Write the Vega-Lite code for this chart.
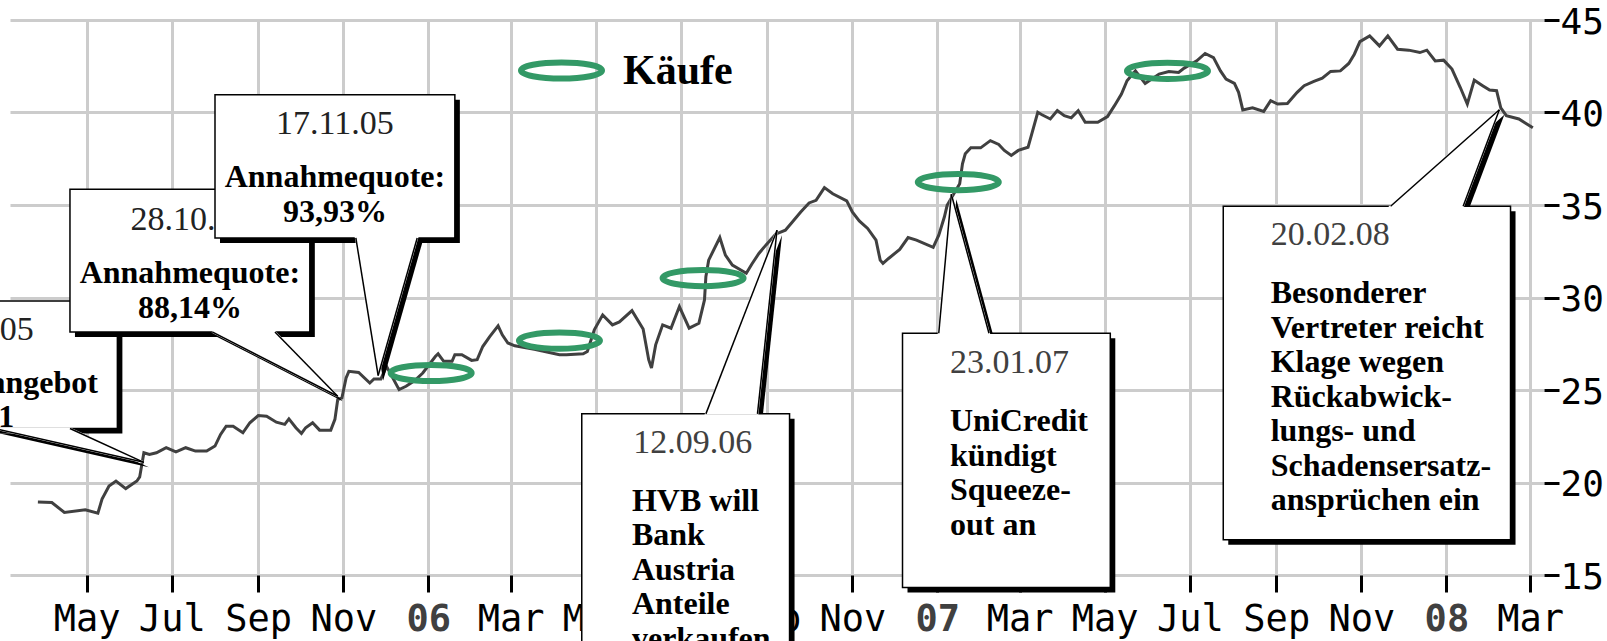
{
  "$schema": "https://vega.github.io/schema/vega-lite/v6.json",
  "width": 1534,
  "height": 555,
  "autosize": {"type": "none"},
  "padding": {"left": 10, "top": 20, "right": 63, "bottom": 66},
  "background": "white",
  "config": {"view": {"stroke": null}},
  "datasets": {
    "kurs": [
      {"tag": "2005-03-27", "kurs": 18.95}, {"tag": "2005-04-06", "kurs": 18.92}, {"tag": "2005-04-15", "kurs": 18.38},
      {"tag": "2005-04-30", "kurs": 18.52}, {"tag": "2005-05-09", "kurs": 18.34}, {"tag": "2005-05-12", "kurs": 19.10},
      {"tag": "2005-05-17", "kurs": 19.81}, {"tag": "2005-05-22", "kurs": 20.08}, {"tag": "2005-05-29", "kurs": 19.67},
      {"tag": "2005-06-06", "kurs": 20.08}, {"tag": "2005-06-08", "kurs": 20.30}, {"tag": "2005-06-11", "kurs": 21.61},
      {"tag": "2005-06-15", "kurs": 21.52}, {"tag": "2005-06-20", "kurs": 21.61}, {"tag": "2005-06-27", "kurs": 21.88},
      {"tag": "2005-07-04", "kurs": 21.65}, {"tag": "2005-07-11", "kurs": 21.88}, {"tag": "2005-07-18", "kurs": 21.70},
      {"tag": "2005-07-26", "kurs": 21.70}, {"tag": "2005-08-01", "kurs": 21.97}, {"tag": "2005-08-05", "kurs": 22.60},
      {"tag": "2005-08-09", "kurs": 23.04}, {"tag": "2005-08-14", "kurs": 23.04}, {"tag": "2005-08-21", "kurs": 22.69},
      {"tag": "2005-08-26", "kurs": 23.23}, {"tag": "2005-09-01", "kurs": 23.62}, {"tag": "2005-09-07", "kurs": 23.58},
      {"tag": "2005-09-14", "kurs": 23.26}, {"tag": "2005-09-20", "kurs": 23.14}, {"tag": "2005-09-23", "kurs": 23.44},
      {"tag": "2005-09-28", "kurs": 22.96}, {"tag": "2005-10-02", "kurs": 22.65}, {"tag": "2005-10-05", "kurs": 22.96},
      {"tag": "2005-10-10", "kurs": 23.23}, {"tag": "2005-10-15", "kurs": 22.83}, {"tag": "2005-10-23", "kurs": 22.83},
      {"tag": "2005-10-26", "kurs": 23.41}, {"tag": "2005-10-28", "kurs": 24.48}, {"tag": "2005-10-31", "kurs": 24.57},
      {"tag": "2005-11-03", "kurs": 25.65}, {"tag": "2005-11-05", "kurs": 26.01}, {"tag": "2005-11-12", "kurs": 25.95},
      {"tag": "2005-11-20", "kurs": 25.38}, {"tag": "2005-11-23", "kurs": 25.60}, {"tag": "2005-11-28", "kurs": 25.60},
      {"tag": "2005-12-02", "kurs": 26.28}, {"tag": "2005-12-11", "kurs": 25.02}, {"tag": "2005-12-16", "kurs": 25.20},
      {"tag": "2005-12-22", "kurs": 25.50}, {"tag": "2005-12-28", "kurs": 25.92}, {"tag": "2006-01-06", "kurs": 26.81},
      {"tag": "2006-01-08", "kurs": 26.96}, {"tag": "2006-01-12", "kurs": 26.55}, {"tag": "2006-01-18", "kurs": 26.55},
      {"tag": "2006-01-20", "kurs": 26.91}, {"tag": "2006-01-25", "kurs": 26.91}, {"tag": "2006-02-01", "kurs": 26.60},
      {"tag": "2006-02-05", "kurs": 26.64}, {"tag": "2006-02-09", "kurs": 27.35}, {"tag": "2006-02-14", "kurs": 27.89},
      {"tag": "2006-02-20", "kurs": 28.47}, {"tag": "2006-02-23", "kurs": 27.98}, {"tag": "2006-02-27", "kurs": 27.54},
      {"tag": "2006-03-04", "kurs": 27.39}, {"tag": "2006-03-18", "kurs": 27.20}, {"tag": "2006-04-05", "kurs": 26.91},
      {"tag": "2006-04-10", "kurs": 26.91}, {"tag": "2006-04-22", "kurs": 26.96}, {"tag": "2006-04-25", "kurs": 27.08},
      {"tag": "2006-04-30", "kurs": 28.25}, {"tag": "2006-05-06", "kurs": 29.06}, {"tag": "2006-05-13", "kurs": 28.52},
      {"tag": "2006-05-18", "kurs": 28.68}, {"tag": "2006-05-27", "kurs": 29.29}, {"tag": "2006-06-04", "kurs": 28.30},
      {"tag": "2006-06-08", "kurs": 26.64}, {"tag": "2006-06-10", "kurs": 26.19}, {"tag": "2006-06-13", "kurs": 27.44},
      {"tag": "2006-06-18", "kurs": 28.52}, {"tag": "2006-06-24", "kurs": 28.34}, {"tag": "2006-06-30", "kurs": 29.51},
      {"tag": "2006-07-07", "kurs": 28.34}, {"tag": "2006-07-14", "kurs": 28.61}, {"tag": "2006-07-18", "kurs": 29.87},
      {"tag": "2006-07-19", "kurs": 31.12}, {"tag": "2006-07-21", "kurs": 32.02}, {"tag": "2006-07-29", "kurs": 33.24},
      {"tag": "2006-08-02", "kurs": 32.29}, {"tag": "2006-08-07", "kurs": 31.75}, {"tag": "2006-08-17", "kurs": 31.31},
      {"tag": "2006-08-21", "kurs": 31.81}, {"tag": "2006-08-26", "kurs": 32.38}, {"tag": "2006-08-31", "kurs": 32.83},
      {"tag": "2006-09-07", "kurs": 33.42}, {"tag": "2006-09-14", "kurs": 33.64}, {"tag": "2006-09-19", "kurs": 34.08},
      {"tag": "2006-09-25", "kurs": 34.62}, {"tag": "2006-10-01", "kurs": 35.11}, {"tag": "2006-10-06", "kurs": 35.25},
      {"tag": "2006-10-12", "kurs": 35.94}, {"tag": "2006-10-18", "kurs": 35.61}, {"tag": "2006-10-28", "kurs": 35.22},
      {"tag": "2006-11-01", "kurs": 34.62}, {"tag": "2006-11-06", "kurs": 34.14}, {"tag": "2006-11-12", "kurs": 33.73},
      {"tag": "2006-11-18", "kurs": 33.10}, {"tag": "2006-11-21", "kurs": 32.02}, {"tag": "2006-11-23", "kurs": 31.84},
      {"tag": "2006-11-27", "kurs": 32.11}, {"tag": "2006-12-05", "kurs": 32.60}, {"tag": "2006-12-11", "kurs": 33.24},
      {"tag": "2006-12-17", "kurs": 33.10}, {"tag": "2006-12-29", "kurs": 32.71}, {"tag": "2007-01-02", "kurs": 33.37},
      {"tag": "2007-01-06", "kurs": 34.35}, {"tag": "2007-01-08", "kurs": 34.98}, {"tag": "2007-01-17", "kurs": 36.15},
      {"tag": "2007-01-19", "kurs": 37.23}, {"tag": "2007-01-21", "kurs": 37.77}, {"tag": "2007-01-25", "kurs": 38.09},
      {"tag": "2007-02-01", "kurs": 38.09}, {"tag": "2007-02-08", "kurs": 38.48}, {"tag": "2007-02-14", "kurs": 38.27},
      {"tag": "2007-02-18", "kurs": 37.95}, {"tag": "2007-02-23", "kurs": 37.68}, {"tag": "2007-02-28", "kurs": 37.95},
      {"tag": "2007-03-07", "kurs": 38.12}, {"tag": "2007-03-10", "kurs": 38.93}, {"tag": "2007-03-14", "kurs": 40.01},
      {"tag": "2007-03-17", "kurs": 39.88}, {"tag": "2007-03-23", "kurs": 39.65}, {"tag": "2007-03-28", "kurs": 40.10},
      {"tag": "2007-04-02", "kurs": 39.83}, {"tag": "2007-04-07", "kurs": 39.71}, {"tag": "2007-04-12", "kurs": 40.10},
      {"tag": "2007-04-17", "kurs": 39.47}, {"tag": "2007-04-26", "kurs": 39.47}, {"tag": "2007-05-03", "kurs": 39.78},
      {"tag": "2007-05-08", "kurs": 40.37}, {"tag": "2007-05-13", "kurs": 41.00}, {"tag": "2007-05-17", "kurs": 41.72},
      {"tag": "2007-05-23", "kurs": 42.25}, {"tag": "2007-05-30", "kurs": 41.57}, {"tag": "2007-06-09", "kurs": 42.08},
      {"tag": "2007-06-16", "kurs": 42.22}, {"tag": "2007-06-23", "kurs": 42.16}, {"tag": "2007-06-27", "kurs": 42.40},
      {"tag": "2007-07-06", "kurs": 42.79}, {"tag": "2007-07-12", "kurs": 43.19}, {"tag": "2007-07-18", "kurs": 42.97},
      {"tag": "2007-07-23", "kurs": 42.25}, {"tag": "2007-07-27", "kurs": 41.81}, {"tag": "2007-08-02", "kurs": 41.57},
      {"tag": "2007-08-05", "kurs": 41.09}, {"tag": "2007-08-08", "kurs": 40.14}, {"tag": "2007-08-15", "kurs": 40.25},
      {"tag": "2007-08-23", "kurs": 40.06}, {"tag": "2007-08-28", "kurs": 40.64}, {"tag": "2007-09-02", "kurs": 40.46},
      {"tag": "2007-09-09", "kurs": 40.49}, {"tag": "2007-09-16", "kurs": 41.09}, {"tag": "2007-09-21", "kurs": 41.45},
      {"tag": "2007-09-28", "kurs": 41.68}, {"tag": "2007-10-04", "kurs": 41.86}, {"tag": "2007-10-10", "kurs": 42.22},
      {"tag": "2007-10-17", "kurs": 42.25}, {"tag": "2007-10-23", "kurs": 42.65}, {"tag": "2007-10-27", "kurs": 43.15},
      {"tag": "2007-10-31", "kurs": 43.83}, {"tag": "2007-11-07", "kurs": 44.14}, {"tag": "2007-11-14", "kurs": 43.60},
      {"tag": "2007-11-20", "kurs": 44.14}, {"tag": "2007-11-27", "kurs": 43.42}, {"tag": "2007-12-05", "kurs": 43.37},
      {"tag": "2007-12-13", "kurs": 43.24}, {"tag": "2007-12-18", "kurs": 43.37}, {"tag": "2007-12-24", "kurs": 42.79},
      {"tag": "2007-12-30", "kurs": 42.83}, {"tag": "2008-01-05", "kurs": 42.35}, {"tag": "2008-01-11", "kurs": 41.35},
      {"tag": "2008-01-16", "kurs": 40.46}, {"tag": "2008-01-21", "kurs": 41.75}, {"tag": "2008-01-27", "kurs": 41.45},
      {"tag": "2008-02-01", "kurs": 41.21}, {"tag": "2008-02-06", "kurs": 41.18}, {"tag": "2008-02-09", "kurs": 40.25},
      {"tag": "2008-02-13", "kurs": 39.83}, {"tag": "2008-02-22", "kurs": 39.65}, {"tag": "2008-03-03", "kurs": 39.17}
    ],
    "kaeufe": [
      {"tag": "2006-01-03", "kurs": 25.92, "art": "Käufe"},
      {"tag": "2006-04-05", "kurs": 27.67, "art": "Käufe"},
      {"tag": "2006-07-17", "kurs": 31.05, "art": "Käufe"},
      {"tag": "2007-01-16", "kurs": 36.24, "art": "Käufe"},
      {"tag": "2007-06-15", "kurs": 42.25, "art": "Käufe"}
    ],
    "kaesten": [
      {"id": "12.06.05", "von": "2005-02-14", "bis": "2005-05-23", "oben": 29.81, "unten": 22.92},
      {"id": "28.10.05", "von": "2005-04-19", "bis": "2005-10-08", "oben": 35.85, "unten": 28.14},
      {"id": "17.11.05", "von": "2005-08-01", "bis": "2006-01-20", "oben": 40.96, "unten": 33.22},
      {"id": "12.09.06", "von": "2006-04-21", "bis": "2006-09-17", "oben": 23.71, "unten": 8},
      {"id": "23.01.07", "von": "2006-12-07", "bis": "2007-05-05", "oben": 28.07, "unten": 14.33},
      {"id": "20.02.08", "von": "2007-07-25", "bis": "2008-02-16", "oben": 34.93, "unten": 16.91}
    ],
    "zeiger": [
      {"id": "12.06.05", "wert": 22.92, "links": "2005-02-24", "rechts": "2005-04-19"},
      {"id": "12.06.05", "wert": 21.09, "links": "2005-06-11", "rechts": "2005-06-11"},
      {"id": "28.10.05", "wert": 28.14, "links": "2005-07-30", "rechts": "2005-09-13"},
      {"id": "28.10.05", "wert": 24.66, "links": "2005-10-28", "rechts": "2005-10-28"},
      {"id": "17.11.05", "wert": 33.22, "links": "2005-11-10", "rechts": "2005-12-24"},
      {"id": "17.11.05", "wert": 25.78, "links": "2005-11-26", "rechts": "2005-11-26"},
      {"id": "12.09.06", "wert": 23.71, "links": "2006-07-19", "rechts": "2006-08-25"},
      {"id": "12.09.06", "wert": 33.64, "links": "2006-09-08", "rechts": "2006-09-08"},
      {"id": "23.01.07", "wert": 28.07, "links": "2007-01-02", "rechts": "2007-02-07"},
      {"id": "23.01.07", "wert": 35.58, "links": "2007-01-11", "rechts": "2007-01-11"},
      {"id": "20.02.08", "wert": 34.93, "links": "2007-11-22", "rechts": "2008-01-13"},
      {"id": "20.02.08", "wert": 40.15, "links": "2008-02-08", "rechts": "2008-02-08"}
    ],
    "texte": [
      {"id": "12.06.05", "art": "datum", "x": "2005-03-24", "y": 27.71, "text": "12.06.05"},
      {"id": "12.06.05", "art": "inhalt", "x": "2005-05-09", "y": 24.86, "text": "Übernahmeangebot"},
      {"id": "12.06.05", "art": "inhalt", "x": "2005-03-10", "y": 22.98, "text": "1"},
      {"id": "28.10.05", "art": "datum", "x": "2005-07-14", "y": 33.64, "text": "28.10.05"},
      {"id": "28.10.05", "art": "inhalt", "x": "2005-07-14", "y": 30.78, "text": ["Annahmequote:", "\u00a0\u00a0\u00a0\u00a0\u00a088,14%"]},
      {"id": "17.11.05", "art": "datum", "x": "2005-10-26", "y": 38.84, "text": "17.11.05"},
      {"id": "17.11.05", "art": "inhalt", "x": "2005-10-26", "y": 35.97, "text": ["Annahmequote:", "\u00a0\u00a0\u00a0\u00a0\u00a093,93%"]},
      {"id": "12.09.06", "art": "datum", "x": "2006-05-28", "y": 21.61, "text": "12.09.06"},
      {"id": "12.09.06", "art": "inhalt", "x": "2006-05-27", "y": 18.47, "text": ["HVB will", "Bank", "Austria", "Anteile", "verkaufen"]},
      {"id": "23.01.07", "art": "datum", "x": "2007-01-10", "y": 25.92, "text": "23.01.07"},
      {"id": "23.01.07", "art": "inhalt", "x": "2007-01-10", "y": 22.78, "text": ["UniCredit", "kündigt", "Squeeze-", "out an"]},
      {"id": "20.02.08", "art": "datum", "x": "2007-08-28", "y": 32.83, "text": "20.02.08"},
      {"id": "20.02.08", "art": "inhalt", "x": "2007-08-28", "y": 29.69, "text": ["Besonderer", "Vertreter reicht", "Klage wegen", "Rückabwick-", "lungs- und", "Schadensersatz-", "ansprüchen ein"]}
    ]
  },
  "layer": [
    {
      "data": {"name": "kurs", "format": {"parse": {"tag": "date"}}},
      "mark": {"type": "line", "color": "#404040", "strokeWidth": 3},
      "encoding": {
        "x": {
          "field": "tag", "type": "temporal",
          "scale": {"type": "utc", "nice": false, "domain": [{"year": 2005, "month": 3, "date": 7, "utc": true}, {"year": 2008, "month": 3, "date": 11, "utc": true}]},
          "axis": {
            "title": null, "domain": false, "grid": true, "gridColor": "#cccccc", "gridWidth": 3,
            "ticks": true, "tickColor": "black", "tickWidth": 3, "tickSize": 17,
            "tickCount": {"interval": "month", "step": 2},
            "labelExpr": "utcmonth(datum.value) === 0 ? utcFormat(datum.value, '%y') : utcFormat(datum.value, '%b')",
            "labelFont": "DejaVu Sans Mono", "labelFontSize": 37,
            "labelColor": {"condition": {"test": "utcmonth(datum.value) === 0", "value": "#404040"}, "value": "black"},
            "labelFontWeight": {"condition": {"test": "utcmonth(datum.value) === 0", "value": "bold"}, "value": "normal"},
            "labelPadding": 9, "labelFlush": false, "labelOverlap": false, "labelBound": false
          }
        },
        "y": {
          "field": "kurs", "type": "quantitative",
          "scale": {"domain": [15, 45], "nice": false, "zero": false},
          "axis": {
            "orient": "right", "title": null, "domain": false, "grid": true, "gridColor": "#cccccc", "gridWidth": 3,
            "values": [15, 20, 25, 30, 35, 40, 45],
            "ticks": true, "tickColor": "black", "tickWidth": 3, "tickSize": 15,
            "labelFont": "DejaVu Sans Mono", "labelFontSize": 36, "labelColor": "black",
            "labelPadding": 1, "labelOffset": 2, "labelFlush": false, "labelOverlap": false, "labelBound": false
          }
        }
      }
    },
    {
      "mark": {"type": "rect", "fill": "transparent", "stroke": "black", "strokeWidth": 3},
      "encoding": {
        "x": {"datum": {"year": 2005, "month": 3, "date": 7, "utc": true}, "type": "temporal"},
        "x2": {"datum": {"year": 2008, "month": 3, "date": 11, "utc": true}},
        "y": {"datum": 15, "type": "quantitative"},
        "y2": {"datum": 45}
      }
    },
    {
      "data": {"name": "kaeufe", "format": {"parse": {"tag": "date"}}},
      "mark": {"type": "point", "shape": "M-1,0C-1,-0.11,-0.55,-0.2,0,-0.2C0.55,-0.2,1,-0.11,1,0C1,0.11,0.55,0.2,0,0.2C-0.55,0.2,-1,0.11,-1,0Z", "size": 6561, "filled": false, "strokeWidth": 6, "opacity": 1},
      "encoding": {
        "x": {"field": "tag", "type": "temporal"},
        "y": {"field": "kurs", "type": "quantitative"},
        "color": {
          "field": "art", "type": "nominal", "scale": {"range": ["#339966"]},
          "legend": {
            "title": null, "orient": "none", "legendX": 508, "legendY": 7, "padding": 0,
            "symbolType": "M-1,0C-1,-0.11,-0.55,-0.2,0,-0.2C0.55,-0.2,1,-0.11,1,0C1,0.11,0.55,0.2,0,0.2C-0.55,0.2,-1,0.11,-1,0Z",
            "symbolSize": 6561, "symbolStrokeWidth": 6, "symbolOpacity": 1,
            "labelFont": "Liberation Serif", "labelFontSize": 42, "labelFontWeight": "bold", "labelColor": "black",
            "labelOffset": 18, "labelLimit": 0
          }
        }
      }
    },

    {"data": {"name": "kaesten", "format": {"parse": {"von": "date", "bis": "date"}}}, "transform": [{"filter": "datum.id == '12.06.05'"}],
     "mark": {"type": "rect", "fill": "black", "xOffset": 5, "x2Offset": 5, "yOffset": 5, "y2Offset": 5},
     "encoding": {"x": {"field": "von", "type": "temporal"}, "x2": {"field": "bis"}, "y": {"field": "oben", "type": "quantitative"}, "y2": {"field": "unten"}}},
    {"data": {"name": "zeiger", "format": {"parse": {"links": "date", "rechts": "date"}}}, "transform": [{"filter": "datum.id == '12.06.05'"}],
     "mark": {"type": "area", "orient": "horizontal", "fill": "black", "xOffset": 5, "x2Offset": 5, "yOffset": 5},
     "encoding": {"y": {"field": "wert", "type": "quantitative"}, "x": {"field": "links", "type": "temporal"}, "x2": {"field": "rechts"}}},
    {"data": {"name": "kaesten", "format": {"parse": {"von": "date", "bis": "date"}}}, "transform": [{"filter": "datum.id == '12.06.05'"}],
     "mark": {"type": "rect", "fill": "white", "stroke": "black", "strokeWidth": 1.5},
     "encoding": {"x": {"field": "von", "type": "temporal"}, "x2": {"field": "bis"}, "y": {"field": "oben", "type": "quantitative"}, "y2": {"field": "unten"}}},
    {"data": {"name": "zeiger", "format": {"parse": {"links": "date", "rechts": "date"}}}, "transform": [{"filter": "datum.id == '12.06.05'"}],
     "mark": {"type": "area", "orient": "horizontal", "fill": "white", "stroke": "white", "strokeWidth": 2},
     "encoding": {"y": {"field": "wert", "type": "quantitative"}, "x": {"field": "links", "type": "temporal"}, "x2": {"field": "rechts"}}},
    {"data": {"name": "texte", "format": {"parse": {"x": "date"}}}, "transform": [{"filter": "datum.id == '12.06.05' && datum.art == 'datum'"}],
     "mark": {"type": "text", "font": "Liberation Serif", "fontSize": 34, "color": "#222222", "align": "right", "baseline": "alphabetic"},
     "encoding": {"x": {"field": "x", "type": "temporal"}, "y": {"field": "y", "type": "quantitative"}, "text": {"field": "text"}}},
    {"data": {"name": "texte", "format": {"parse": {"x": "date"}}}, "transform": [{"filter": "datum.id == '12.06.05' && datum.art == 'inhalt'"}],
     "mark": {"type": "text", "font": "Liberation Serif", "fontSize": 32, "fontWeight": "bold", "color": "black", "align": "right", "baseline": "alphabetic", "lineHeight": 34.5},
     "encoding": {"x": {"field": "x", "type": "temporal"}, "y": {"field": "y", "type": "quantitative"}, "text": {"field": "text"}}},

    {"data": {"name": "kaesten", "format": {"parse": {"von": "date", "bis": "date"}}}, "transform": [{"filter": "datum.id == '28.10.05'"}],
     "mark": {"type": "rect", "fill": "black", "xOffset": 5, "x2Offset": 5, "yOffset": 5, "y2Offset": 5},
     "encoding": {"x": {"field": "von", "type": "temporal"}, "x2": {"field": "bis"}, "y": {"field": "oben", "type": "quantitative"}, "y2": {"field": "unten"}}},
    {"data": {"name": "zeiger", "format": {"parse": {"links": "date", "rechts": "date"}}}, "transform": [{"filter": "datum.id == '28.10.05'"}],
     "mark": {"type": "area", "orient": "horizontal", "fill": "black", "xOffset": 5, "x2Offset": 5, "yOffset": 5},
     "encoding": {"y": {"field": "wert", "type": "quantitative"}, "x": {"field": "links", "type": "temporal"}, "x2": {"field": "rechts"}}},
    {"data": {"name": "kaesten", "format": {"parse": {"von": "date", "bis": "date"}}}, "transform": [{"filter": "datum.id == '28.10.05'"}],
     "mark": {"type": "rect", "fill": "white", "stroke": "black", "strokeWidth": 1.5},
     "encoding": {"x": {"field": "von", "type": "temporal"}, "x2": {"field": "bis"}, "y": {"field": "oben", "type": "quantitative"}, "y2": {"field": "unten"}}},
    {"data": {"name": "zeiger", "format": {"parse": {"links": "date", "rechts": "date"}}}, "transform": [{"filter": "datum.id == '28.10.05'"}],
     "mark": {"type": "area", "orient": "horizontal", "fill": "white", "stroke": "white", "strokeWidth": 2},
     "encoding": {"y": {"field": "wert", "type": "quantitative"}, "x": {"field": "links", "type": "temporal"}, "x2": {"field": "rechts"}}},
    {"data": {"name": "texte", "format": {"parse": {"x": "date"}}}, "transform": [{"filter": "datum.id == '28.10.05' && datum.art == 'datum'"}],
     "mark": {"type": "text", "font": "Liberation Serif", "fontSize": 34, "color": "#222222", "align": "center", "baseline": "alphabetic"},
     "encoding": {"x": {"field": "x", "type": "temporal"}, "y": {"field": "y", "type": "quantitative"}, "text": {"field": "text"}}},
    {"data": {"name": "texte", "format": {"parse": {"x": "date"}}}, "transform": [{"filter": "datum.id == '28.10.05' && datum.art == 'inhalt'"}],
     "mark": {"type": "text", "font": "Liberation Serif", "fontSize": 32, "fontWeight": "bold", "color": "black", "align": "center", "baseline": "alphabetic", "lineHeight": 34.5},
     "encoding": {"x": {"field": "x", "type": "temporal"}, "y": {"field": "y", "type": "quantitative"}, "text": {"field": "text"}}},

    {"data": {"name": "kaesten", "format": {"parse": {"von": "date", "bis": "date"}}}, "transform": [{"filter": "datum.id != '12.06.05' && datum.id != '28.10.05'"}],
     "mark": {"type": "rect", "fill": "black", "xOffset": 5, "x2Offset": 5, "yOffset": 5, "y2Offset": 5},
     "encoding": {"x": {"field": "von", "type": "temporal"}, "x2": {"field": "bis"}, "y": {"field": "oben", "type": "quantitative"}, "y2": {"field": "unten"}}},
    {"data": {"name": "zeiger", "format": {"parse": {"links": "date", "rechts": "date"}}}, "transform": [{"filter": "datum.id == '17.11.05'"}],
     "mark": {"type": "area", "orient": "horizontal", "fill": "black", "xOffset": 5, "x2Offset": 5, "yOffset": 5},
     "encoding": {"y": {"field": "wert", "type": "quantitative"}, "x": {"field": "links", "type": "temporal"}, "x2": {"field": "rechts"}}},
    {"data": {"name": "zeiger", "format": {"parse": {"links": "date", "rechts": "date"}}}, "transform": [{"filter": "datum.id == '12.09.06'"}],
     "mark": {"type": "area", "orient": "horizontal", "fill": "black", "xOffset": 5, "x2Offset": 5, "yOffset": 5},
     "encoding": {"y": {"field": "wert", "type": "quantitative"}, "x": {"field": "links", "type": "temporal"}, "x2": {"field": "rechts"}}},
    {"data": {"name": "zeiger", "format": {"parse": {"links": "date", "rechts": "date"}}}, "transform": [{"filter": "datum.id == '23.01.07'"}],
     "mark": {"type": "area", "orient": "horizontal", "fill": "black", "xOffset": 5, "x2Offset": 5, "yOffset": 5},
     "encoding": {"y": {"field": "wert", "type": "quantitative"}, "x": {"field": "links", "type": "temporal"}, "x2": {"field": "rechts"}}},
    {"data": {"name": "zeiger", "format": {"parse": {"links": "date", "rechts": "date"}}}, "transform": [{"filter": "datum.id == '20.02.08'"}],
     "mark": {"type": "area", "orient": "horizontal", "fill": "black", "xOffset": 5, "x2Offset": 5, "yOffset": 5},
     "encoding": {"y": {"field": "wert", "type": "quantitative"}, "x": {"field": "links", "type": "temporal"}, "x2": {"field": "rechts"}}},
    {"data": {"name": "kaesten", "format": {"parse": {"von": "date", "bis": "date"}}}, "transform": [{"filter": "datum.id != '12.06.05' && datum.id != '28.10.05'"}],
     "mark": {"type": "rect", "fill": "white", "stroke": "black", "strokeWidth": 1.5},
     "encoding": {"x": {"field": "von", "type": "temporal"}, "x2": {"field": "bis"}, "y": {"field": "oben", "type": "quantitative"}, "y2": {"field": "unten"}}},
    {"data": {"name": "zeiger", "format": {"parse": {"links": "date", "rechts": "date"}}}, "transform": [{"filter": "datum.id == '17.11.05'"}],
     "mark": {"type": "area", "orient": "horizontal", "fill": "white", "stroke": "white", "strokeWidth": 2},
     "encoding": {"y": {"field": "wert", "type": "quantitative"}, "x": {"field": "links", "type": "temporal"}, "x2": {"field": "rechts"}}},
    {"data": {"name": "zeiger", "format": {"parse": {"links": "date", "rechts": "date"}}}, "transform": [{"filter": "datum.id == '12.09.06'"}],
     "mark": {"type": "area", "orient": "horizontal", "fill": "white", "stroke": "white", "strokeWidth": 2},
     "encoding": {"y": {"field": "wert", "type": "quantitative"}, "x": {"field": "links", "type": "temporal"}, "x2": {"field": "rechts"}}},
    {"data": {"name": "zeiger", "format": {"parse": {"links": "date", "rechts": "date"}}}, "transform": [{"filter": "datum.id == '23.01.07'"}],
     "mark": {"type": "area", "orient": "horizontal", "fill": "white", "stroke": "white", "strokeWidth": 2},
     "encoding": {"y": {"field": "wert", "type": "quantitative"}, "x": {"field": "links", "type": "temporal"}, "x2": {"field": "rechts"}}},
    {"data": {"name": "zeiger", "format": {"parse": {"links": "date", "rechts": "date"}}}, "transform": [{"filter": "datum.id == '20.02.08'"}],
     "mark": {"type": "area", "orient": "horizontal", "fill": "white", "stroke": "white", "strokeWidth": 2},
     "encoding": {"y": {"field": "wert", "type": "quantitative"}, "x": {"field": "links", "type": "temporal"}, "x2": {"field": "rechts"}}},

    {"data": {"name": "zeiger", "format": {"parse": {"links": "date", "rechts": "date"}}}, "transform": [{"filter": "datum.id != '12.06.05'"}],
     "mark": {"type": "line", "color": "black", "strokeWidth": 1.5},
     "encoding": {"x": {"field": "links", "type": "temporal"}, "y": {"field": "wert", "type": "quantitative"}, "detail": {"field": "id", "type": "nominal"}}},
    {"data": {"name": "zeiger", "format": {"parse": {"links": "date", "rechts": "date"}}},
     "mark": {"type": "line", "color": "black", "strokeWidth": 1.5},
     "encoding": {"x": {"field": "rechts", "type": "temporal"}, "y": {"field": "wert", "type": "quantitative"}, "detail": {"field": "id", "type": "nominal"}}},
    {"data": {"name": "zeiger", "format": {"parse": {"links": "date", "rechts": "date"}}}, "transform": [{"filter": "datum.id == '12.06.05'"}],
     "mark": {"type": "line", "color": "black", "strokeWidth": 1.5},
     "encoding": {"x": {"field": "links", "type": "temporal"}, "y": {"field": "wert", "type": "quantitative"}}},

    {"data": {"name": "texte", "format": {"parse": {"x": "date"}}}, "transform": [{"filter": "datum.id == '17.11.05' && datum.art == 'datum'"}],
     "mark": {"type": "text", "font": "Liberation Serif", "fontSize": 34, "color": "#222222", "align": "center", "baseline": "alphabetic"},
     "encoding": {"x": {"field": "x", "type": "temporal"}, "y": {"field": "y", "type": "quantitative"}, "text": {"field": "text"}}},
    {"data": {"name": "texte", "format": {"parse": {"x": "date"}}}, "transform": [{"filter": "datum.id == '17.11.05' && datum.art == 'inhalt'"}],
     "mark": {"type": "text", "font": "Liberation Serif", "fontSize": 32, "fontWeight": "bold", "color": "black", "align": "center", "baseline": "alphabetic", "lineHeight": 34.5},
     "encoding": {"x": {"field": "x", "type": "temporal"}, "y": {"field": "y", "type": "quantitative"}, "text": {"field": "text"}}},
    {"data": {"name": "texte", "format": {"parse": {"x": "date"}}}, "transform": [{"filter": "(datum.id == '12.09.06' || datum.id == '23.01.07' || datum.id == '20.02.08') && datum.art == 'datum'"}],
     "mark": {"type": "text", "font": "Liberation Serif", "fontSize": 34, "color": "#404040", "align": "left", "baseline": "alphabetic"},
     "encoding": {"x": {"field": "x", "type": "temporal"}, "y": {"field": "y", "type": "quantitative"}, "text": {"field": "text"}}},
    {"data": {"name": "texte", "format": {"parse": {"x": "date"}}}, "transform": [{"filter": "(datum.id == '12.09.06' || datum.id == '23.01.07' || datum.id == '20.02.08') && datum.art == 'inhalt'"}],
     "mark": {"type": "text", "font": "Liberation Serif", "fontSize": 32, "fontWeight": "bold", "color": "black", "align": "left", "baseline": "alphabetic", "lineHeight": 34.5},
     "encoding": {"x": {"field": "x", "type": "temporal"}, "y": {"field": "y", "type": "quantitative"}, "text": {"field": "text"}}}
  ]
}
